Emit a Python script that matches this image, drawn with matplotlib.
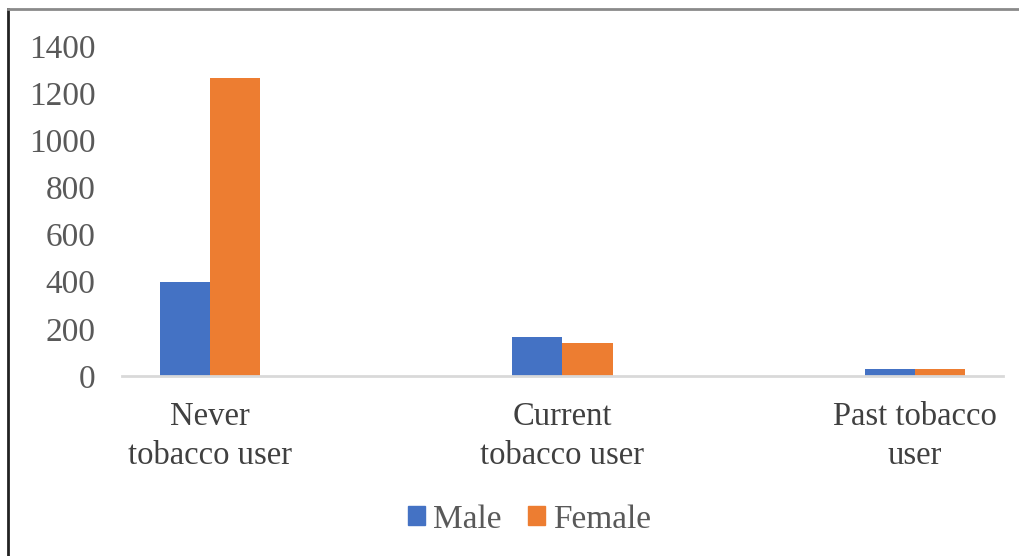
import matplotlib
matplotlib.use("Agg")
import matplotlib.pyplot as plt
from matplotlib.lines import Line2D
from matplotlib.patches import Patch
import numpy as np

categories = ["Never\ntobacco user", "Current\ntobacco user", "Past tobacco\nuser"]
male = [400, 165, 28]
female = [1265, 140, 28]
yticks = [0, 200, 400, 600, 800, 1000, 1200, 1400]

plt.rcParams['font.family'] = ['Liberation Serif', 'DejaVu Serif']

fig = plt.figure(figsize=(10.19, 5.56), dpi=100)
ax = fig.add_axes([0.1197, 0.3237, 0.8646, 0.5936])

x = np.arange(len(categories))
w = 0.142
c_m = '#4472C4'
c_f = '#ED7D31'
ax.bar(x - w/2, male, w, color=c_m, label='Male')
ax.bar(x + w/2, female, w, color=c_f, label='Female')

fs = 23.5
ax.set_xlim(-0.25, 2.25)
ax.set_ylim(0, 1400)
ax.set_yticks(yticks)
ax.set_yticklabels([str(t) for t in yticks])
ax.set_xticks(x)
ax.set_xticklabels(categories, linespacing=1.37)
ax.tick_params(axis='y', length=0, pad=19, labelsize=24, labelcolor='#595959')
ax.tick_params(axis='x', length=0, pad=18, labelsize=fs, labelcolor='#404040')
for s in ['top', 'right', 'left']:
    ax.spines[s].set_visible(False)
ax.spines['bottom'].set_color('#d9d9d9')
ax.spines['bottom'].set_linewidth(2)

handles = [Patch(color=c_m, label='Male'), Patch(color=c_f, label='Female')]
fig.legend(handles=handles, loc='center', bbox_to_anchor=(0.52, 0.066), ncol=2,
           frameon=False, fontsize=24, handlelength=0.5, handleheight=0.5,
           handletextpad=0.25, columnspacing=0.8, labelcolor='#595959')

# figure border
fig.add_artist(Line2D([8/1019, 8/1019], [0, 1 - 9/556], transform=fig.transFigure,
                      color='#222222', lw=2))
fig.add_artist(Line2D([8/1019, 1], [1 - 9/556, 1 - 9/556], transform=fig.transFigure,
                      color='#8a8a8a', lw=2))

fig.savefig('out.png', dpi=100)
